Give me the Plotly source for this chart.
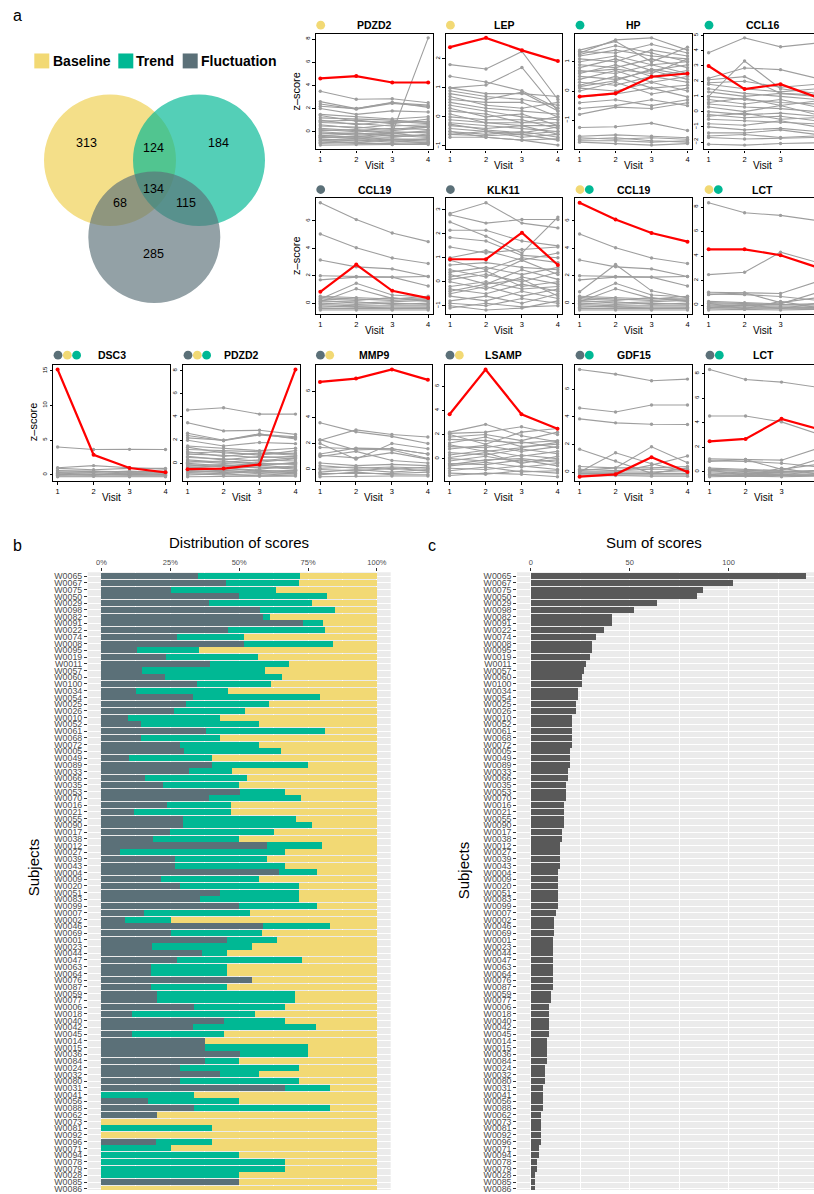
import plotly.graph_objects as go

W, H = 814, 1194
FONT = "Liberation Sans, Arial, Helvetica, sans-serif"
C_BASE, C_TREND, C_FLUCT = "#F2D974", "#00B894", "#5B7078"
GRAY, RED = "#9E9E9E", "#FF0000"

# ---------------- data ----------------
VENN_LABELS = ["Baseline", "Trend", "Fluctuation"]
VENN_COUNTS = {"B": 313, "BT": 124, "T": 184, "BTF": 134, "BF": 68, "TF": 115, "F": 285}

VISITS = [1, 2, 3, 4]

PDZD2_Z = [
    [4.6, 4.8, 4.25, 4.25], [-0.5, -0.45, -0.1, 8.1], [3.5, 2.8, 2.85, 2.5], [2.6, 2.0, 2.5, 2.3],
    [2.4, 1.95, 2.45, 2.2], [2.2, 2.0, 2.55, 2.1], [2.0, 1.5, 1.8, 1.7], [1.5, 1.3, 1.1, 1.3],
    [1.4, 0.9, 0.8, 0.9], [1.2, 1.1, 1.0, 0.8], [1.0, 0.6, 0.9, 0.7], [0.8, 0.7, 0.5, 0.6],
    [0.6, 0.3, 0.6, 0.4], [0.5, 0.4, 0.2, 0.5], [0.3, 0.1, 0.3, 0.2], [0.2, 0.0, 0.1, 0.4],
    [0.0, -0.2, 0.0, -0.1], [-0.1, -0.3, -0.2, 0.1], [-0.2, -0.1, -0.4, -0.3], [-0.3, -0.5, -0.3, -0.5],
    [-0.4, -0.6, -0.5, -0.2], [-0.5, -0.4, -0.7, -0.6], [-0.6, -0.8, -0.6, -0.7], [-0.7, -0.6, -0.8, -0.9],
    [-0.8, -0.9, -0.7, -0.8], [-0.9, -1.0, -1.0, -0.9], [-1.0, -0.9, -1.1, -1.0], [-1.15, -1.1, -1.1, -1.1],
    [0.9, 1.0, 0.7, 1.1], [0.1, 0.2, -0.1, 0.0], [-0.35, -0.2, -0.15, -0.4], [-0.75, -0.7, -0.9, -0.6],
]
LEP_Z = [
    [2.4, 2.72, 2.29, 1.92], [1.8, 1.65, 2.25, 0.6], [1.4, 1.2, 0.9, 0.3], [1.0, 1.1, 1.7, 0.2],
    [1.0, 0.8, 0.8, 0.7], [0.9, 0.7, 0.6, 0.4], [0.8, 0.6, 0.85, 0.2], [0.6, 0.5, 0.5, 0.0],
    [0.5, 0.3, 0.2, 0.1], [0.4, 0.2, 0.0, -0.1], [0.3, 0.0, 0.1, -0.3], [0.2, 0.1, -0.2, -0.2],
    [0.0, -0.1, -0.1, -0.4], [-0.1, -0.2, -0.3, -0.3], [-0.2, -0.3, -0.4, -0.5], [-0.3, -0.4, -0.3, -0.6],
    [-0.4, -0.5, -0.6, -0.5], [-0.5, -0.6, -0.5, -0.7], [-0.6, -0.5, -0.7, -0.6], [-0.7, -0.7, -0.8, -0.75],
    [-0.6, -0.65, -0.6, -0.8], [-0.5, -0.7, -0.8, -0.97], [0.7, 0.4, 0.3, 0.5], [0.1, -0.2, -0.2, 0.0],
    [-0.25, -0.45, -0.55, -0.35],
]
HP_Z = [
    [-0.19, -0.08, 0.49, 0.6], [1.4, 1.7, 1.0, 1.5], [1.3, 1.75, 1.82, 1.4], [1.35, 1.3, 1.6, 1.3],
    [1.2, 1.4, 1.2, 1.1], [1.1, 1.0, 1.4, 1.2], [1.0, 1.2, 0.9, 1.0], [0.9, 0.8, 1.1, 0.8],
    [0.8, 1.1, 0.7, 0.9], [0.7, 0.6, 0.9, 0.6], [0.6, 0.9, 0.5, 0.7], [0.5, 0.4, 0.7, 0.4],
    [0.4, 0.7, 0.3, 0.5], [0.3, 0.2, 0.5, 0.3], [0.2, 0.5, 0.1, 0.2], [0.1, 0.0, 0.3, 0.0],
    [0.0, 0.3, -0.1, 0.1], [-0.2, -0.1, 0.1, -0.2], [-0.4, -0.3, -0.5, -0.3], [-0.6, -0.5, -0.3, -0.5],
    [-0.8, -0.55, -0.6, -0.4], [-1.25, -1.22, -1.1, -1.35], [-1.55, -1.5, -1.55, -1.6],
    [-1.6, -1.65, -1.6, -1.65], [-1.7, -1.7, -1.75, -1.7], [-1.75, -1.8, -1.85, -1.8], [-1.65, -1.6, -1.7, -1.75],
    [1.25, 1.55, 1.3, 1.0], [0.65, 0.75, 0.6, 1.1], [0.15, 0.35, 0.75, 0.55],
]
CCL16_Z = [
    [3.0, 1.48, 1.8, 0.95], [3.87, 4.85, 4.26, 4.5], [1.0, 3.33, 1.5, 1.2], [2.2, 2.87, 2.76, 2.2],
    [2.1, 2.3, 1.2, 1.0], [1.9, 2.0, 1.6, 1.8], [1.8, 1.5, 1.3, 1.5], [1.5, 1.2, 1.0, 0.8],
    [1.3, 1.0, 1.2, 1.1], [1.0, 0.8, 0.6, 0.5], [0.8, 0.5, 0.8, 0.3], [0.5, 0.3, 0.2, 0.0],
    [0.3, 0.0, 0.4, -0.2], [0.0, -0.2, -0.1, -0.3], [-0.2, -0.4, -0.3, -0.6], [-0.5, -0.6, -0.7, -0.8],
    [-0.8, -0.9, -0.6, -1.0], [-1.0, -1.2, -1.1, -1.3], [-1.4, -1.4, -1.2, -1.5], [-1.6, -1.5, -1.7, -1.6],
    [-1.7, -1.8, -1.75, -1.7], [-2.15, -2.2, -2.1, -2.05], [0.6, 0.9, 0.4, 0.7], [-0.3, -0.1, -0.5, -0.4],
]
CCL19_Z = [
    [0.83, 2.82, 0.9, 0.37], [7.33, 6.1, 5.12, 4.49], [5.05, 4.05, 3.3, 2.9], [3.15, 2.65, 2.5, 1.95],
    [2.0, 1.95, 1.9, 1.95], [1.7, 1.9, 1.9, 1.25], [0.3, 1.45, 0.6, 0.45], [0.1, 1.05, 0.35, 0.3],
    [0.5, 0.4, 0.3, 0.5], [0.4, 0.3, 0.2, 0.3], [0.3, 0.2, 0.4, 0.1], [0.2, 0.0, 0.1, 0.2],
    [0.1, 0.1, -0.1, 0.0], [0.0, -0.1, 0.0, -0.1], [-0.1, -0.2, -0.2, -0.2], [-0.2, -0.3, -0.3, -0.3],
    [-0.3, -0.25, -0.4, -0.35], [-0.4, -0.4, -0.45, -0.4], [-0.5, -0.5, -0.5, -0.5],
]
KLK11_Z = [
    [0.94, 0.94, 2.05, 0.7], [2.85, 3.3, 2.45, 2.25], [2.8, 2.45, 2.6, 2.6], [2.5, 1.9, 1.2, 2.7],
    [2.15, 2.15, 1.7, 1.5], [1.85, 1.7, 1.1, 1.0], [1.45, 1.2, 1.35, 1.45], [1.0, 1.3, 0.9, 1.2],
    [0.9, 0.5, 1.0, 0.8], [0.7, 0.8, 0.6, 0.5], [0.5, 0.2, 0.9, 0.3], [0.4, 0.6, 0.3, 0.6],
    [0.3, -0.1, 0.5, 0.1], [0.1, 0.3, 0.0, 0.4], [0.0, -0.3, 0.2, -0.1], [-0.2, 0.0, -0.3, -0.2],
    [-0.3, -0.5, -0.1, -0.4], [-0.5, -0.2, -0.6, -0.3], [-0.6, -0.8, -0.4, -0.7], [-0.8, -0.6, -0.9, -0.5],
    [-0.9, -1.0, -0.7, -0.9], [-1.1, -0.9, -1.05, -1.0], [-1.0, -1.18, -1.1, -0.8],
    [0.2, 0.45, -0.2, 0.0], [-0.4, -0.1, 0.1, -0.6],
]
LCT_Z = [
    [4.55, 4.55, 4.07, 3.1], [2.49, 2.68, 4.32, 3.5], [8.35, 7.53, 7.32, 6.9], [1.05, 1.0, 0.95, 1.9],
    [0.9, 0.85, 0.7, 0.4], [0.85, 1.0, 0.2, 0.6], [0.3, 0.2, 0.1, 1.0], [0.2, 0.1, 0.05, 0.1],
    [0.1, 0.05, 0.0, 0.0], [0.0, -0.05, -0.1, -0.1], [-0.1, -0.15, -0.2, -0.2], [-0.2, -0.2, -0.25, -0.25],
    [-0.3, -0.3, -0.3, -0.3], [0.15, -0.3, 0.3, -0.2], [-0.25, 0.05, -0.3, 0.15], [-0.4, -0.35, -0.4, -0.35],
]
DSC3_Z = [
    [15.2, 2.87, 0.96, 0.33], [4.0, 3.64, 3.65, 3.62], [1.0, 1.3, 1.0, 0.8], [0.9, 0.7, 0.9, 0.9],
    [0.6, 0.5, 0.4, 0.5], [0.4, 0.3, 0.5, 0.3], [0.2, 0.1, 0.2, 0.2], [0.0, 0.1, 0.0, 0.1],
    [-0.1, 0.0, -0.1, -0.1], [-0.2, -0.2, -0.2, -0.2], [0.3, 0.5, 0.2, 0.0], [0.1, -0.1, 0.3, 0.4],
    [-0.3, -0.25, -0.3, -0.3],
]
MMP9_Z = [
    [6.74, 7.0, 7.7, 6.9], [3.6, 2.9, 2.55, 2.0], [2.25, 3.05, 2.7, 2.5], [2.3, 1.5, 1.6, 1.2],
    [2.0, 0.8, 2.0, 1.6], [1.7, 1.6, 1.5, 0.85], [1.2, 1.65, 1.6, 1.2], [1.1, 0.9, 1.3, 0.8],
    [1.0, 1.4, 0.7, 0.5], [0.5, 0.3, 0.4, 0.3], [0.3, 0.1, 0.2, 0.1], [0.1, 0.2, 0.0, 0.2],
    [0.0, -0.1, 0.1, -0.1], [-0.2, 0.0, -0.2, 0.0], [-0.3, -0.3, -0.3, -0.2], [-0.4, -0.2, -0.4, -0.4],
    [-0.55, -0.5, -0.5, -0.5],
]
LSAMP_Z = [
    [3.69, 7.41, 3.69, 2.48], [2.2, 2.85, 1.9, 1.4], [2.1, 2.2, 2.65, 2.0], [2.0, 1.2, 2.2, 2.5],
    [1.8, 2.0, 1.5, 2.2], [1.6, 1.5, 1.3, 1.5], [1.3, 1.8, 1.0, 1.2], [1.0, 0.9, 1.4, 0.9],
    [0.8, 1.1, 0.6, 1.0], [0.5, 0.3, 0.8, 0.4], [0.3, 0.7, 0.2, 0.6], [0.0, -0.2, 0.3, 0.0],
    [-0.2, 0.2, -0.3, -0.1], [-0.4, -0.5, -0.1, -0.6], [-0.6, -0.3, -0.7, -0.4], [-0.8, -0.9, -0.6, -0.9],
    [-1.0, -0.7, -1.1, -1.0], [-1.2, -1.3, -1.0, -1.2], [-1.4, -1.2, -1.3, -1.5],
    [1.15, 0.6, 0.9, 1.35], [0.1, 0.5, -0.4, 0.2], [-0.5, -0.1, 0.0, -0.3],
]
GDF15_Z = [
    [-0.34, -0.17, 1.08, 0.0], [7.45, 7.11, 6.63, 6.75], [4.65, 4.36, 4.87, 4.87], [3.86, 3.57, 3.47, 3.45],
    [1.65, 0.8, -0.1, 0.3], [0.0, 1.4, 0.6, 0.0], [0.1, 0.3, 1.83, 0.67], [0.0, 0.0, 0.5, 1.16],
    [0.4, 0.3, 0.3, 0.4], [0.2, 0.1, 0.2, 0.2], [0.0, 0.0, 0.0, 0.1], [-0.1, -0.1, -0.15, -0.1],
    [-0.2, -0.2, -0.2, -0.2], [-0.3, -0.25, -0.3, -0.3],
]

# panel: title, data, highlighted row, category dots, y tick values
PANEL_TITLES = ["PDZD2", "LEP", "HP", "CCL16",
                "CCL19", "KLK11", "CCL19", "LCT",
                "DSC3", "PDZD2", "MMP9", "LSAMP", "GDF15", "LCT"]
PANEL_DATA = [PDZD2_Z, LEP_Z, HP_Z, CCL16_Z,
              CCL19_Z, KLK11_Z, CCL19_Z, LCT_Z,
              DSC3_Z, PDZD2_Z, MMP9_Z, LSAMP_Z, GDF15_Z, LCT_Z]
PANEL_RED = [0, 0, 0, 0, 0, 0, 1, 0, 0, 1, 0, 0, 0, 1]
PANEL_DOTS = [["B"], ["B"], ["T"], ["T"],
              ["F"], ["F"], ["B", "T"], ["B", "T"],
              ["F", "B", "T"], ["F", "B", "T"], ["F", "B"], ["F", "B"], ["F", "T"], ["F", "T"]]
PANEL_YTICKS = [[0, 2, 4, 6, 8], [-1, 0, 1, 2], [-1, 0, 1], [-2, -1, 0, 1, 2, 3, 4, 5],
                [0, 2, 4, 6], [-1, 0, 1, 2, 3], [0, 2, 4, 6], [0, 2, 4, 6, 8],
                [0, 5, 10, 15], [0, 2, 4, 6, 8], [0, 2, 4, 6], [0, 2, 4, 6], [0, 2, 4, 6], [0, 2, 4, 6, 8]]

SUBJECTS = ["W0065", "W0067", "W0075", "W0050", "W0029", "W0098", "W0082", "W0091", "W0022", "W0074",
            "W0008", "W0095", "W0019", "W0011", "W0057", "W0060", "W0100", "W0034", "W0054", "W0025",
            "W0026", "W0010", "W0052", "W0061", "W0068", "W0072", "W0005", "W0049", "W0089", "W0033",
            "W0066", "W0035", "W0053", "W0070", "W0016", "W0021", "W0055", "W0090", "W0017", "W0038",
            "W0012", "W0027", "W0039", "W0043", "W0004", "W0009", "W0020", "W0051", "W0083", "W0099",
            "W0007", "W0002", "W0046", "W0069", "W0001", "W0023", "W0044", "W0047", "W0063", "W0064",
            "W0076", "W0087", "W0059", "W0077", "W0006", "W0018", "W0040", "W0042", "W0045", "W0014",
            "W0015", "W0036", "W0084", "W0024", "W0032", "W0080", "W0031", "W0041", "W0056", "W0088",
            "W0062", "W0073", "W0081", "W0092", "W0096", "W0071", "W0094", "W0078", "W0079", "W0028",
            "W0085", "W0086"]
FLUCT_PCT = [34.9, 45.1, 25.3, 49.9, 39.2, 57.5, 58.6, 73.0, 45.9, 27.5,
             51.7, 13.0, 23.5, 39.4, 14.8, 23.1, 34.7, 12.7, 33.3, 30.7,
             26.4, 9.8, 14.5, 38.0, 14.5, 28.6, 30.0, 10.1, 40.1, 31.8,
             15.9, 22.4, 50.2, 39.0, 23.9, 11.9, 29.6, 29.6, 24.9, 18.8,
             60.0, 6.9, 26.7, 26.7, 64.3, 21.7, 28.6, 43.0, 35.8, 49.9,
             15.5, 8.7, 58.6, 25.3, 45.5, 18.4, 36.5, 27.5, 18.1, 18.1,
             54.6, 18.1, 20.2, 20.2, 33.6, 11.2, 44.5, 33.3, 11.2, 37.6,
             37.6, 50.2, 37.6, 28.6, 43.0, 28.6, 66.5, 0.0, 17.0, 33.6,
             20.2, 0.0, 0.0, 0.0, 19.9, 0.0, 0.0, 0.0, 0.0, 0.0,
             49.9, 0.0]
TREND_PCT = [37.0, 26.5, 38.0, 32.1, 37.4, 27.1, 2.5, 7.6, 35.1, 24.2,
             32.2, 22.4, 33.2, 28.6, 44.5, 42.3, 26.7, 33.2, 45.9, 30.0,
             25.6, 33.2, 42.6, 43.0, 28.5, 28.5, 35.1, 30.0, 34.7, 15.5,
             36.9, 27.5, 16.3, 33.3, 23.1, 35.1, 40.9, 46.7, 37.6, 31.1,
             19.9, 59.6, 33.3, 39.8, 14.1, 35.4, 43.0, 28.6, 35.8, 28.5,
             38.4, 16.6, 24.5, 32.9, 18.1, 36.2, 9.0, 45.2, 27.4, 27.4,
             0.0, 27.4, 49.9, 49.9, 32.9, 44.5, 22.0, 44.4, 33.3, 0.0,
             37.2, 24.6, 12.3, 43.0, 14.1, 43.0, 16.6, 33.6, 32.9, 49.5,
             0.0, 0.0, 40.1, 0.0, 20.2, 25.3, 49.9, 66.5, 66.5, 49.9,
             0.0, 0.0]
BASE_PCT = [round(100 - f - t, 1) for f, t in zip(FLUCT_PCT, TREND_PCT)]
SUM_SCORES = [139, 102, 87, 84, 64, 52, 41, 41, 37, 33,
              31, 31, 30, 28, 27, 26, 26, 24, 24, 23,
              23, 21, 21, 21, 21, 21, 20, 20, 20, 19,
              19, 18, 18, 18, 17, 17, 17, 17, 16, 16,
              15, 15, 15, 15, 14, 14, 14, 14, 14, 14,
              13, 12, 12, 12, 11, 11, 11, 11, 11, 11,
              11, 11, 10, 10, 9, 9, 9, 9, 9, 8,
              8, 8, 8, 7, 7, 7, 6, 6, 6, 6,
              5, 5, 5, 5, 5, 4, 4, 3, 3, 2,
              2, 2]
PCT_TICKS = [0, 25, 50, 75, 100]
PCT_LABELS = ["0%", "25%", "50%", "75%", "100%"]
SUM_TICKS = [0, 50, 100]

assert len(SUBJECTS) == len(FLUCT_PCT) == len(TREND_PCT) == len(SUM_SCORES)

COLOR_OF = {"B": C_BASE, "T": C_TREND, "F": C_FLUCT}

# ---------------- helpers ----------------
fig = go.Figure()
layout = {}
annotations = []
shapes = []
_n = [0]


def new_axes(x0, x1, y0, y1):
    _n[0] += 1
    n = _n[0]
    s = "" if n == 1 else str(n)
    xr, yr = "x" + s, "y" + s
    layout["xaxis" + s] = dict(domain=[max(0, x0 / W), min(1, x1 / W)], anchor=yr)
    layout["yaxis" + s] = dict(domain=[max(0, 1 - y1 / H), min(1, 1 - y0 / H)], anchor=xr)
    return "xaxis" + s, "yaxis" + s, xr, yr


def ann(x, y, text, size, bold=False, angle=0, xanchor="center", color="black"):
    annotations.append(dict(x=x / W, y=1 - y / H, xref="paper", yref="paper", text=f"<b>{text}</b>" if bold else text,
                            showarrow=False, font=dict(size=size, color=color, family=FONT), textangle=angle,
                            xanchor=xanchor, yanchor="middle"))


def dot(cx, cy, r, color):
    shapes.append(dict(type="circle", xref="paper", yref="paper", x0=(cx - r) / W, x1=(cx + r) / W,
                       y0=1 - (cy + r) / H, y1=1 - (cy - r) / H, fillcolor=color, line=dict(width=0)))


# ---------------- panel a : Venn ----------------
xa, ya, xr, yr = new_axes(0, 300, 0, 330)
layout[xa].update(range=[0, 300], visible=False)
layout[ya].update(range=[330, 0], visible=False)
for (cx, cy), col, op in [((110, 160), C_BASE, 0.85), ((199, 160), C_TREND, 0.67), ((154.3, 237.3), C_FLUCT, 0.66)]:
    shapes.append(dict(type="circle", xref=xr, yref=yr, x0=cx - 66, x1=cx + 66, y0=cy - 66, y1=cy + 66,
                       fillcolor=col, opacity=op, line=dict(width=0)))
for key, (x, y) in {"B": (86, 143), "BT": (153.3, 147.7), "T": (219, 143), "BTF": (153.3, 188.3),
                    "BF": (120, 202.7), "TF": (186, 202.7), "F": (153.3, 254)}.items():
    ann(x, y, str(VENN_COUNTS[key]), 12.5)
for (sx, tx), lab, col in zip([(34.3, 50.5), (118.3, 134.3), (182.7, 199.3)], VENN_LABELS, [C_BASE, C_TREND, C_FLUCT]):
    shapes.append(dict(type="rect", xref="paper", yref="paper", x0=sx / W, x1=(sx + 15) / W,
                       y0=1 - 67.7 / H, y1=1 - 52.7 / H, fillcolor=col, line=dict(width=0)))
    ann(tx, 60.5, lab, 14, bold=True, xanchor="left")
ann(17.7, 15, "a", 16)

# ---------------- panel a : small multiples ----------------
PW, PH = 116.5, 116.3
LEFTS_TOP = [316, 445.7, 575.3, 704.3]
LEFTS_BOT = [53.3, 183.3, 315.7, 445.3, 575.3, 705.3]
ROW_TOPS = [32.7, 198.3, 365.7]
ROW_TITLE_Y = [24.3, 189.3, 355.7]

positions = [(0, l) for l in LEFTS_TOP] + [(1, l) for l in LEFTS_TOP] + [(2, l) for l in LEFTS_BOT]

for i, (row, left) in enumerate(positions):
    data = PANEL_DATA[i]
    red = PANEL_RED[i]
    top = ROW_TOPS[row]
    right = left + PW
    x_hi = 4.12
    cut = right > W
    if cut:
        x_hi = 0.88 + (W - left) / PW * 3.24
        right = W
    xa, ya, xr, yr = new_axes(left, right, top, top + PH)
    gx, gy = [], []
    for j, r in enumerate(data):
        if j == red:
            continue
        gx += VISITS + [None]
        gy += r + [None]
    fig.add_trace(go.Scatter(x=gx, y=gy, xaxis=xr, yaxis=yr, mode="lines+markers",
                             line=dict(color=GRAY, width=1.1), marker=dict(size=3.4, color=GRAY),
                             hoverinfo="skip"))
    fig.add_trace(go.Scatter(x=VISITS, y=data[red], xaxis=xr, yaxis=yr, mode="lines+markers",
                             line=dict(color=RED, width=2.2), marker=dict(size=4, color=RED),
                             hoverinfo="skip"))
    lo = min(min(r) for r in data)
    hi = max(max(r) for r in data)
    pad = 0.04 * (hi - lo)
    layout[xa].update(range=[0.88, x_hi], tickvals=VISITS, ticks="outside", ticklen=2.5, tickwidth=1,
                      tickcolor="black", showline=True, linecolor="black", linewidth=1.3, mirror=True,
                      showgrid=False, zeroline=False, tickfont=dict(size=7.5, color="black", family=FONT))
    layout[ya].update(range=[lo - pad, hi + pad], tickvals=PANEL_YTICKS[i], ticks="outside", ticklen=2.5,
                      tickwidth=1, tickcolor="black", showline=True, linecolor="black", linewidth=1.3,
                      mirror=not cut, showgrid=False, zeroline=False, tickangle=-90,
                      tickfont=dict(size=6, color="black", family=FONT))
    cx = left + PW / 2
    ann(cx, ROW_TITLE_Y[row], PANEL_TITLES[i], 10.5, bold=True)
    for k, d in enumerate(PANEL_DOTS[i]):
        dot(left + 4.7 + 9.3 * k, ROW_TITLE_Y[row], 4.4, COLOR_OF[d])
    ann(cx, top + PH + 16.5, "Visit", 10)

ann(296, 91, "z\u2013score", 11, angle=-90)
ann(296, 256, "z\u2013score", 11, angle=-90)
ann(33, 423, "z\u2013score", 11, angle=-90)

# ---------------- panel b ----------------
ROW_RANGE = [91.17, -0.6]
xa, ya, xr, yr = new_axes(87.7, 390.7, 573.6, H)
for vals, col in [(FLUCT_PCT, C_FLUCT), (TREND_PCT, C_TREND), (BASE_PCT, C_BASE)]:
    fig.add_trace(go.Bar(x=vals, y=SUBJECTS, orientation="h", width=0.9, xaxis=xr, yaxis=yr,
                         marker=dict(color=col, line=dict(width=0)), hoverinfo="skip"))
layout[xa].update(side="top", range=[-5, 105], tickvals=PCT_TICKS, ticktext=PCT_LABELS, showgrid=True,
                  gridcolor="white", gridwidth=1.1, zeroline=False, ticks="outside", ticklen=2.75,
                  tickcolor="#333333", tickwidth=0.6, tickfont=dict(size=7.5, color="#4D4D4D", family=FONT),
                  minor=dict(tickvals=[12.5, 37.5, 62.5, 87.5], showgrid=True, gridcolor="white", gridwidth=0.5))
layout[ya].update(type="category", categoryorder="array", categoryarray=SUBJECTS, range=ROW_RANGE,
                  tickmode="array", tickvals=SUBJECTS, ticktext=SUBJECTS,
                  showgrid=True, gridcolor="white", gridwidth=1.1, ticks="outside", ticklen=2.75,
                  tickcolor="#333333", tickwidth=0.6, tickfont=dict(size=8.8, color="#4D4D4D", family=FONT))
shapes.append(dict(type="rect", xref=xr + " domain", yref=yr + " domain", x0=0, x1=1, y0=0, y1=1,
                   fillcolor="#EBEBEB", line=dict(width=0), layer="below"))
ann(239, 543.5, "Distribution of scores", 15)
ann(33, 870, "Subjects", 15, angle=-90)
ann(17, 547, "b", 16)

# ---------------- panel c ----------------
xa, ya, xr, yr = new_axes(517, W, 573.6, H)
fig.add_trace(go.Bar(x=SUM_SCORES, y=SUBJECTS, orientation="h", width=0.9, xaxis=xr, yaxis=yr,
                     marker=dict(color="#595959", line=dict(width=0)), hoverinfo="skip"))
layout[xa].update(side="top", range=[-6.95, 143.2], tickvals=SUM_TICKS, showgrid=True,
                  gridcolor="white", gridwidth=1.1, zeroline=False, ticks="outside", ticklen=2.75,
                  tickcolor="#333333", tickwidth=0.6, tickfont=dict(size=7.5, color="#4D4D4D", family=FONT),
                  minor=dict(tickvals=[25, 75, 125], showgrid=True, gridcolor="white", gridwidth=0.5))
layout[ya].update(type="category", categoryorder="array", categoryarray=SUBJECTS, range=ROW_RANGE,
                  tickmode="array", tickvals=SUBJECTS, ticktext=SUBJECTS,
                  showgrid=True, gridcolor="white", gridwidth=1.1, ticks="outside", ticklen=2.75,
                  tickcolor="#333333", tickwidth=0.6, tickfont=dict(size=8.8, color="#4D4D4D", family=FONT))
shapes.append(dict(type="rect", xref=xr + " domain", yref=yr + " domain", x0=0, x1=1, y0=0, y1=1,
                   fillcolor="#EBEBEB", line=dict(width=0), layer="below"))
ann(654, 544, "Sum of scores", 15)
ann(463, 873, "Subjects", 15, angle=-90)
ann(432, 547, "c", 16)

fig.update_layout(width=W, height=H, margin=dict(l=0, r=0, t=0, b=0), paper_bgcolor="white",
                  plot_bgcolor="white", showlegend=False, barmode="stack", bargap=0.1,
                  font=dict(family=FONT), annotations=annotations, shapes=shapes, **layout)
fig.write_html("out.html")
